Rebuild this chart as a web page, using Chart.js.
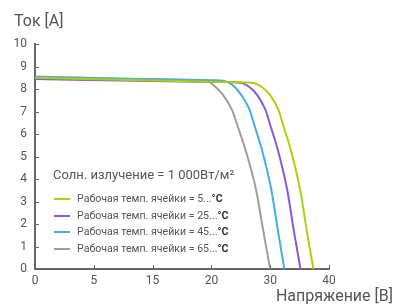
<!DOCTYPE html>
<html>
<head>
<meta charset="utf-8">
<script src="https://cdn.jsdelivr.net/npm/chart.js@4.4.1/dist/chart.umd.min.js"></script>
<style>
  html, body { margin: 0; padding: 0; background: #fff; }
  #wrap { position: relative; width: 405px; height: 305px; }
</style>
</head>
<body>
<div id="wrap"><canvas id="ivChart" width="405" height="305"></canvas></div>
<script>
// tick labels along the voltage axis (equally spaced on the picture)
const xTickLabels = [0, 5, 15, 20, 30, 40];
const seriesLabels = ['5', '25', '45', '65'];
const seriesColors = ['#a6d40c', '#8a5ad2', '#46ade2', '#9e9e9e'];

// [voltage V, current A]
const curve5 = [[0, 8.5], [15, 8.38], [24, 8.3], [27.1, 8.27], [28.5, 8.1], [30.0, 7.73], [31.4, 7.07], [32.2, 6.4], [33.5, 5.29], [35.1, 3.51], [36.2, 1.73], [37.35, 0]];
const curve25 = [[0, 8.44], [15, 8.35], [22, 8.31], [24.9, 8.28], [26.3, 8.12], [27.8, 7.73], [29.2, 7.07], [30.0, 6.4], [31.3, 5.29], [32.9, 3.51], [34.0, 1.73], [35.15, 0]];
const curve45 = [[0, 8.53], [15, 8.43], [20, 8.39], [22.2, 8.36], [23.6, 8.18], [25.1, 7.73], [26.5, 7.07], [27.3, 6.4], [28.6, 5.29], [30.2, 3.51], [31.3, 1.73], [32.4, 0]];
const curve65 = [[0, 8.56], [15, 8.44], [19.6, 8.38], [20.3, 8.18], [22.0, 7.73], [23.5, 7.07], [24.4, 6.4], [25.8, 5.29], [27.6, 3.51], [28.8, 1.73], [30, 0]];
const curves = [curve5, curve25, curve45, curve65];

// place a voltage on the axis between its neighbouring tick labels
function voltToPos(v) {
    for (let i = 0; i < xTickLabels.length - 1; i++) {
        const a = xTickLabels[i], b = xTickLabels[i + 1];
        if (v <= b || i === xTickLabels.length - 2) {
            return i + (v - a) / (b - a);
        }
    }
}

const axisColor = '#666';
const textColor = '#555';
const fontFamily = 'Roboto, "Noto Sans", sans-serif';

const extrasPlugin = {
    id: 'extras',
    afterDraw(chart) {
        const ctx = chart.ctx;
        const x = chart.scales.x, y = chart.scales.y;
        ctx.save();
        // inner tick marks
        ctx.strokeStyle = axisColor;
        ctx.lineWidth = 1;
        ctx.beginPath();
        x.ticks.forEach((t, i) => {
            const px = Math.round(x.getPixelForTick(i)) + 0.5;
            ctx.moveTo(px, y.bottom);
            ctx.lineTo(px, y.bottom - 4);
        });
        y.ticks.forEach((t, i) => {
            const py = Math.round(y.getPixelForTick(i)) + 0.5;
            ctx.moveTo(x.left, py);
            ctx.lineTo(x.left + 4, py);
        });
        ctx.stroke();

        // axis titles
        ctx.fillStyle = textColor;
        ctx.textBaseline = 'middle';
        ctx.font = '16px ' + fontFamily;
        ctx.textAlign = 'left';
        ctx.fillText('Ток [A]', 14, 22);
        ctx.textAlign = 'right';
        ctx.fillText('Напряжение [В]', 393, 297);

        // legend inside the plot
        ctx.textAlign = 'left';
        ctx.font = '13px ' + fontFamily;
        ctx.fillText('Солн. излучение = 1 000Вт/м²', 53, 176);
        const rows = [199, 216, 232, 249];
        chart.data.datasets.forEach((ds, i) => {
            const ry = rows[i];
            ctx.strokeStyle = ds.borderColor;
            ctx.lineWidth = 2;
            ctx.beginPath();
            ctx.moveTo(54, ry);
            ctx.lineTo(70, ry);
            ctx.stroke();
            const main = 'Рабочая темп. ячейки = ' + seriesLabels[i] + '...';
            ctx.font = '10.6px ' + fontFamily;
            ctx.fillStyle = textColor;
            ctx.fillText(main, 77, ry);
            const w = ctx.measureText(main).width;
            ctx.font = 'bold 10.6px ' + fontFamily;
            ctx.fillStyle = '#333';
            ctx.fillText('°C', 77 + w, ry);
        });
        ctx.restore();
    }
};

new Chart(document.getElementById('ivChart').getContext('2d'), {
    type: 'line',
    data: {
        datasets: curves.map((c, i) => ({
            label: 'Рабочая темп. ячейки = ' + seriesLabels[i] + '...°C',
            data: c.map(p => ({ x: voltToPos(p[0]), y: p[1] })),
            borderColor: seriesColors[i],
            borderWidth: 2,
            pointRadius: 0,
            fill: false,
            cubicInterpolationMode: 'monotone'
        }))
    },
    options: {
        responsive: false,
        animation: false,
        layout: { padding: { left: 0, right: 76, top: 44, bottom: 0 } },
        plugins: {
            legend: { display: false },
            tooltip: { enabled: false }
        },
        scales: {
            x: {
                type: 'linear',
                min: 0,
                max: xTickLabels.length - 1,
                grid: { drawOnChartArea: false, drawTicks: false },
                border: { color: axisColor, width: 2 },
                ticks: {
                    stepSize: 1,
                    padding: 5,
                    color: textColor,
                    font: { family: fontFamily, size: 12 },
                    callback: v => xTickLabels[v]
                },
                afterFit: s => { s.height = 36; }
            },
            y: {
                min: 0,
                max: 10,
                grid: { drawOnChartArea: false, drawTicks: false },
                border: { color: axisColor, width: 2 },
                ticks: {
                    stepSize: 1,
                    padding: 8,
                    color: textColor,
                    font: { family: fontFamily, size: 12 }
                },
                afterFit: s => { s.width = 35; }
            }
        }
    },
    plugins: [extrasPlugin]
});
</script>
</body>
</html>
